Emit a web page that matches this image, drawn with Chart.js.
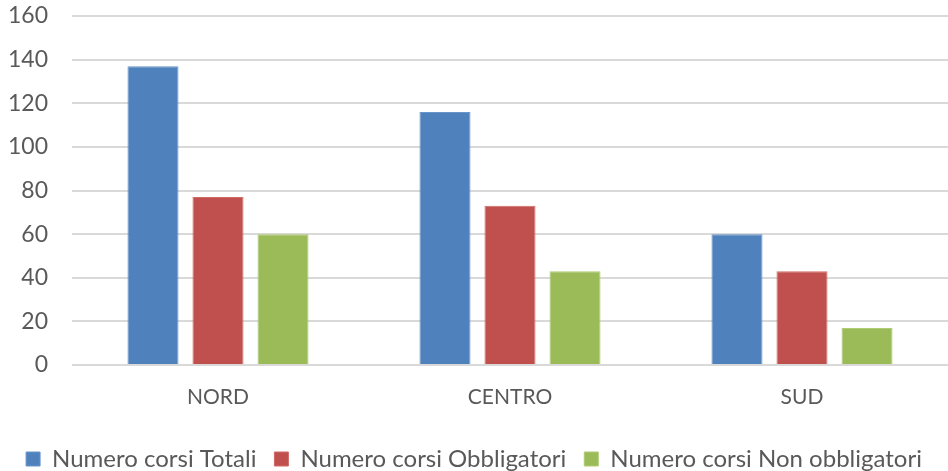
<!DOCTYPE html>
<html>
<head>
<meta charset="utf-8">
<script src="https://cdn.jsdelivr.net/npm/chart.js@4/dist/chart.umd.min.js"></script>
<style>
  html, body { margin: 0; padding: 0; background: #fff; }
  #wrap { width: 948px; height: 471px; }
</style>
</head>
<body>
<div id="wrap"><canvas id="chart"></canvas></div>
<script>
const categories = ['NORD', 'CENTRO', 'SUD'];
const corsiTotali = [137, 116, 60];
const corsiObbligatori = [77, 73, 43];
const corsiNonObbligatori = [60, 43, 17];
const yTicks = [0, 20, 40, 60, 80, 100, 120, 140, 160];

const font = 'Lato, "Open Sans", sans-serif';

new Chart(document.getElementById('chart'), {
    type: 'bar',
    data: {
        labels: categories,
        datasets: [
            { label: 'Numero corsi Totali', data: corsiTotali, backgroundColor: '#4f81bd', borderColor: '#6a95cb', borderWidth: 1 },
            { label: 'Numero corsi Obbligatori', data: corsiObbligatori, backgroundColor: '#c0504d', borderColor: '#d06a67', borderWidth: 1 },
            { label: 'Numero corsi Non obbligatori', data: corsiNonObbligatori, backgroundColor: '#9bbb59', borderColor: '#afcb73', borderWidth: 1 }
        ]
    },
    options: {
        responsive: true,
        maintainAspectRatio: false,
        animation: false,
        categoryPercentage: 0.668,
        barPercentage: 0.785,
        layout: { padding: { top: 16, right: 0, left: 0, bottom: -10 } },
        scales: {
            x: {
                grid: { display: false },
                border: { display: false },
                ticks: { color: '#595959', font: { family: font, size: 21 }, padding: 12 },
                afterFit: axis => { axis.height = 64; }
            },
            y: {
                min: 0,
                max: 160,
                afterBuildTicks: axis => { axis.ticks = yTicks.map(v => ({ value: v })); },
                afterFit: axis => {
                    axis.width = 72;
                    axis.paddingTop = 0;
                    axis.paddingBottom = 0;
                },
                grid: { color: '#d9d9d9', lineWidth: 2, drawTicks: false },
                border: { display: false },
                ticks: { color: '#595959', font: { family: font, size: 23 }, padding: 24 }
            }
        },
        plugins: {
            legend: {
                position: 'bottom',
                labels: {
                    color: '#595959',
                    font: { family: font, size: 24 },
                    boxWidth: 14,
                    boxHeight: 14,
                    padding: 18,
                    useBorderRadius: false
                }
            },
            tooltip: { enabled: false }
        }
    }
});
</script>
</body>
</html>
